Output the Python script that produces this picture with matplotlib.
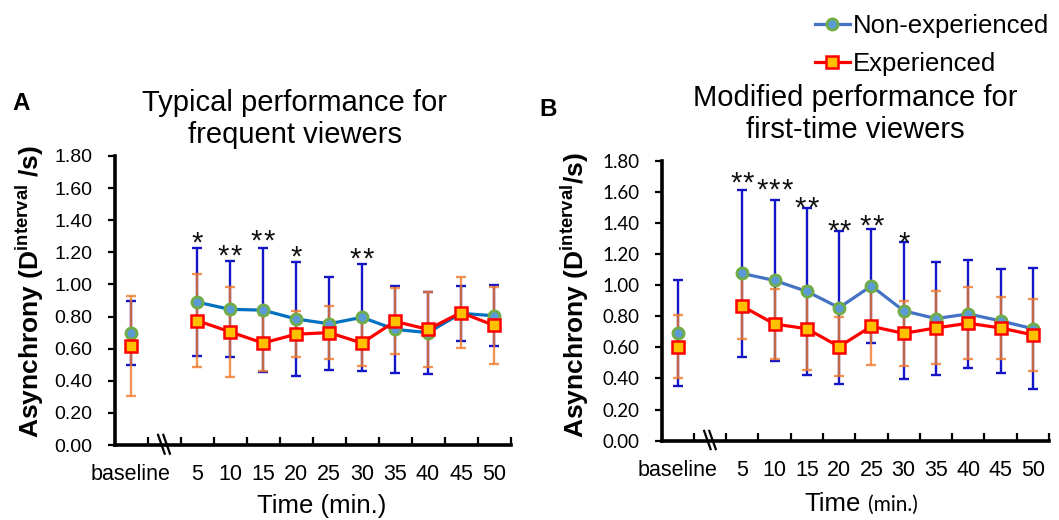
import numpy as np
import matplotlib
matplotlib.use("Agg")
import matplotlib.pyplot as plt
import matplotlib.transforms as mtransforms
from matplotlib.lines import Line2D

plt.rcParams["font.family"] = ["Liberation Sans", "DejaVu Sans"]
plt.rcParams["mathtext.fontset"] = "custom"
plt.rcParams["mathtext.rm"] = "Liberation Sans"
plt.rcParams["mathtext.bf"] = "Liberation Sans:bold"

# ---- data -------------------------------------------------------------
time_labels = ["baseline", "5", "10", "15", "20", "25", "30", "35", "40", "45", "50"]
y_ticks = [0.0, 0.2, 0.4, 0.6, 0.8, 1.0, 1.2, 1.4, 1.6, 1.8]

# Panel A: typical performance, frequent viewers
a_non_mean = [0.70, 0.89, 0.845, 0.84, 0.785, 0.755, 0.795, 0.72, 0.70, 0.82, 0.805]
a_non_sd = [0.20, 0.335, 0.30, 0.385, 0.355, 0.29, 0.335, 0.27, 0.255, 0.17, 0.19]
a_exp_mean = [0.615, 0.775, 0.705, 0.635, 0.69, 0.70, 0.635, 0.77, 0.72, 0.825, 0.745]
a_exp_sd = [0.31, 0.29, 0.28, 0.175, 0.145, 0.165, 0.145, 0.205, 0.235, 0.22, 0.24]
a_sig = ["", "*", "**", "**", "*", "", "**", "", "", "", ""]
a_sig_y = [0, 1.31, 1.225, 1.32, 1.22, 0, 1.21, 0, 0, 0, 0]

# Panel B: modified performance, first-time viewers
b_non_mean = [0.69, 1.075, 1.03, 0.96, 0.855, 0.995, 0.835, 0.785, 0.815, 0.77, 0.72]
b_non_sd = [0.34, 0.535, 0.52, 0.535, 0.49, 0.365, 0.44, 0.365, 0.345, 0.335, 0.39]
b_exp_mean = [0.605, 0.865, 0.75, 0.72, 0.605, 0.735, 0.69, 0.725, 0.755, 0.725, 0.68]
b_exp_sd = [0.20, 0.21, 0.225, 0.265, 0.19, 0.25, 0.21, 0.235, 0.23, 0.20, 0.23]
b_sig = ["", "**", "***", "**", "**", "**", "*", "", "", "", ""]
b_sig_y = [0, 1.708, 1.665, 1.551, 1.397, 1.434, 1.32, 0, 0, 0, 0]

# ---- style ------------------------------------------------------------
NON_FACE, NON_EDGE = "#5B9BD5", "#70AD47"
EXP_FACE, EXP_EDGE = "#FFC000", "#FF0000"
NON_ERR, EXP_ERR = "#1515C8", "#F07A2A"

W, H = 1059, 520
fig = plt.figure(figsize=(W / 100, H / 100), dpi=100)


def fx(px):
    return px / W


def fy(py):
    return 1 - py / H


def slot_positions(n):
    # baseline occupies slot 0, slot 1 is the axis break, time points follow
    return np.array([0] + list(range(2, n + 1)), dtype=float)


def draw_stars(ax, xi, yi, marks, pitch=9.2):
    # each asterisk is placed on its own so the group keeps an even spacing
    n = len(marks)
    for k in range(n):
        dx = (k - (n - 1) / 2) * pitch
        ax.annotate("*", (xi, yi), xytext=(dx, -12), textcoords="offset points",
                    ha="center", va="baseline", fontsize=21, color="#111111",
                    zorder=6)


def draw_panel(ax, non_mean, non_sd, exp_mean, exp_sd, sig, sig_y,
               non_line, ytick_font, ytick_size):
    x = slot_positions(len(non_mean))
    ax.errorbar(x, non_mean, yerr=non_sd, fmt="none", ecolor=NON_ERR,
                elinewidth=1.7, capsize=3.5, capthick=1.7, zorder=2)
    ax.errorbar(x, exp_mean, yerr=exp_sd, fmt="none", ecolor=EXP_ERR,
                elinewidth=1.7, capsize=3.5, capthick=1.7, alpha=0.8, zorder=3)

    # break the line between baseline and the first time point
    xs = np.insert(x, 1, 1.0)
    yn = np.insert(np.array(non_mean, dtype=float), 1, np.nan)
    ye = np.insert(np.array(exp_mean, dtype=float), 1, np.nan)
    ax.plot(xs, yn, color=non_line, lw=2.3, marker="o", ms=8,
            mfc=NON_FACE, mec=NON_EDGE, mew=2, zorder=4)
    ax.plot(xs, ye, color="#FF0000", lw=2.3, marker="s", ms=8.5,
            mfc=EXP_FACE, mec=EXP_EDGE, mew=1.8, zorder=5)

    for xi, s, ys in zip(x, sig, sig_y):
        if s:
            draw_stars(ax, xi, ys, s)

    ax.set_xlim(-0.5, 11.5)
    ax.set_ylim(0, 1.8)
    for side in ("top", "right"):
        ax.spines[side].set_visible(False)
    for side in ("left", "bottom"):
        ax.spines[side].set_linewidth(2.6)
    ax.set_yticks(y_ticks)
    ax.set_yticklabels([f"{v:.2f}" for v in y_ticks], fontsize=ytick_size,
                       family=ytick_font)
    ax.tick_params(axis="y", direction="out", length=5, width=1.6, pad=11)

    ax.set_xticks(np.arange(0.5, 12.0, 1.0))
    ax.set_xticklabels([])
    ax.tick_params(axis="x", which="major", direction="in", length=6, width=1.6)
    ax.set_xticks(x, minor=True)
    ax.set_xticklabels(time_labels, minor=True, fontsize=15.5)
    ax.tick_params(axis="x", which="minor", length=0, pad=14)

    # axis break marks
    tr = mtransforms.blended_transform_factory(ax.transData, ax.transAxes)
    for dx in (-0.08, 0.08):
        ax.add_line(Line2D([1 + dx - 0.1, 1 + dx + 0.1], [0.035, -0.03],
                           transform=tr, color="black", lw=1.6, clip_on=False))


axA = fig.add_axes([fx(114.5), fy(445), fx(396), (445 - 156) / H])
draw_panel(axA, a_non_mean, a_non_sd, a_exp_mean, a_exp_sd, a_sig, a_sig_y,
           "#0070C0", ["Liberation Sans"], 14)

axB = fig.add_axes([fx(661.5), fy(440.7), fx(387.5), (440.7 - 160.7) / H])
draw_panel(axB, b_non_mean, b_non_sd, b_exp_mean, b_exp_sd, b_sig, b_sig_y,
           "#4472C4", ["Lato", "Liberation Sans"], 13.5)

# panel letters and titles
fig.text(fx(21), fy(103), "A", fontsize=17.5, fontweight="bold", ha="center", va="center")
fig.text(fx(548), fy(110), "B", fontsize=17.5, fontweight="bold", ha="center", va="center")
fig.text(fx(295), fy(119), "Typical performance for\nfrequent viewers",
         fontsize=21, ha="center", va="center")
fig.text(fx(855), fy(114), "Modified performance for\nfirst-time viewers",
         fontsize=21, ha="center", va="center")

# y labels
fig.text(fx(30), fy(291), r"Asynchrony ($\mathbf{D^{interval}}$ /s)", rotation=90,
         fontsize=19, fontweight="bold", ha="center", va="center")
fig.text(fx(575), fy(295), r"Asynchrony ($\mathbf{D^{interval}}$/s)", rotation=90,
         fontsize=19, fontweight="bold", ha="center", va="center")

# x labels
fig.text(fx(322), fy(513), "Time (min.)", fontsize=18.5, ha="center", va="baseline")
fig.text(fx(861), fy(511), "Time", fontsize=18.5, ha="right", va="baseline")
fig.text(fx(868), fy(511), "(min.)", fontsize=15, ha="left", va="baseline",
         family=["Lato", "Liberation Sans"])

# legend
handles = [
    Line2D([], [], color="#4472C4", lw=2.3, marker="o", ms=8,
           mfc=NON_FACE, mec=NON_EDGE, mew=2),
    Line2D([], [], color="#FF0000", lw=2.3, marker="s", ms=8.5,
           mfc=EXP_FACE, mec=EXP_EDGE, mew=1.8),
]
fig.legend(handles, ["Non-experienced", "Experienced"], loc="upper left",
           bbox_to_anchor=(fx(815), fy(14)), frameon=False, fontsize=18.5,
           handlelength=1.35, handletextpad=0.12, labelspacing=0.56,
           borderpad=0, borderaxespad=0)

fig.savefig("out.png", dpi=100)
